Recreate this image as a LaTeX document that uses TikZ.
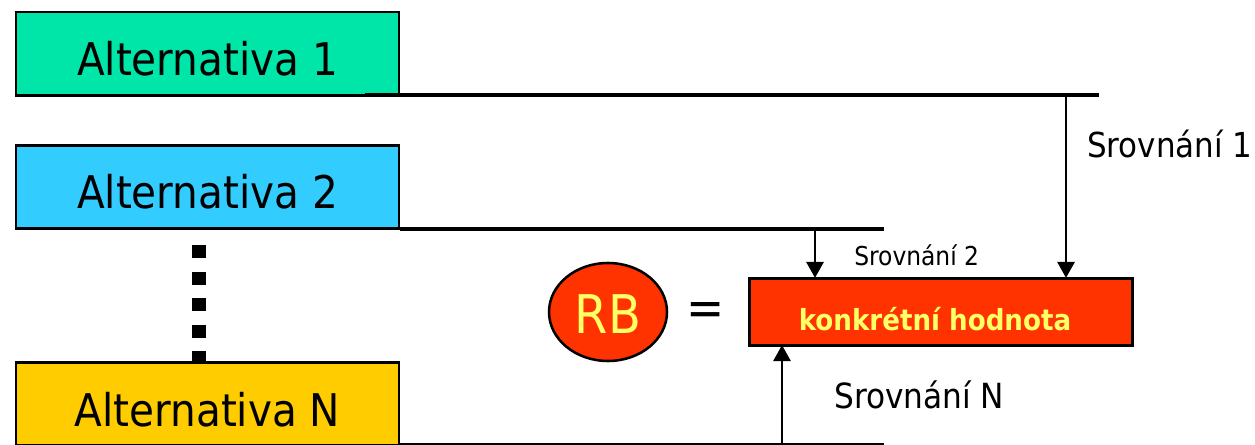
\documentclass[tikz,border=0pt]{standalone}
\usepackage{fontspec}
\setmainfont{DejaVu Sans Condensed}
\definecolor{altgreen}{HTML}{00E6A8}
\definecolor{altblue}{HTML}{33CCFF}
\definecolor{altgold}{HTML}{FFCC00}
\definecolor{hotred}{HTML}{FF3300}
\definecolor{softyellow}{HTML}{FFFF66}
\usetikzlibrary{arrows.meta,shapes.geometric}
\newcommand{\lowered}[2]{\raisebox{-#1}[0pt][0pt]{#2}}
\tikzset{
  x=.75pt,y=-.75pt,
  altbox/.style={draw=black,line width=2.1pt,minimum width=287.25pt,minimum height=62.6pt,inner sep=0pt,font=\fontsize{33.8}{38}\selectfont},
  rail/.style={line width=2.6pt},
  railthin/.style={line width=1.6pt},
  feed/.style={line width=1.7pt,-{Triangle[length=12pt,width=13pt]},shorten >=-1pt},
  cmp/.style={inner sep=0pt,anchor=base west},
}
\begin{document}
\begin{tikzpicture}
\useasboundingbox (0,0) rectangle (1255,445);
\node[altbox,fill=altgreen] (a1) at (207.5,53.8) {\lowered{16.5pt}{Alternativa 1}};
\node[altbox,fill=altblue] (a2) at (207.5,187) {\lowered{16.5pt}{Alternativa 2}};
\node[altbox,fill=altgold] (aN) at (207.5,404) {\lowered{17pt}{Alternativa N}};
\node[draw=black,line width=2.25pt,fill=hotred,minimum width=287.25pt,minimum height=50.25pt,inner sep=0pt,font=\fontsize{21.8}{26}\bfseries\selectfont,text=softyellow] (val) at (940.5,311.5) {\lowered{14.6pt}{konkrétní hodnota}\kern8.25pt};
\node[draw=black,line width=1.9pt,fill=hotred,ellipse,minimum width=88.5pt,minimum height=73.5pt,inner sep=0pt,font=\fontsize{40}{44}\selectfont,text=softyellow] (rb) at (608,312) {\lowered{16pt}{RB}};
\node[inner sep=0pt,font=\fontsize{38}{42}\selectfont] (eq) at (706,314) {=};
\coordinate (d1) at (199,245);
\coordinate (d2) at (199,362);
\draw[line width=10pt,dash pattern=on 10pt off 9.9pt] (d1) -- (d2);
\coordinate (r1s) at (365,95);
\coordinate (r1e) at (1099,95);
\coordinate (r2e) at (884,229);
\coordinate (rNe) at (884,444.5);
\draw[rail] (r1s) -- (r1e);
\draw[rail] (a2.east |- r2e) -- (r2e);
\draw[railthin] (aN.east |- rNe) -- (rNe);
\coordinate (s1) at (1066,95);
\coordinate (s2) at (815,229);
\coordinate (sN) at (782,444.5);
\draw[feed] (s1) -- (s1 |- val.north);
\draw[feed] (s2) -- (s2 |- val.north);
\draw[feed] (sN) -- (sN |- val.south);
\node[cmp,font=\fontsize{25.8}{30}\selectfont] (t1) at (1087,158) {Srovnání 1};
\node[cmp,font=\fontsize{19.5}{22}\selectfont] (t2) at (854,265) {Srovnání 2};
\node[cmp,font=\fontsize{26}{30}\selectfont] (tN) at (834,408) {Srovnání N};
\end{tikzpicture}
\end{document}
